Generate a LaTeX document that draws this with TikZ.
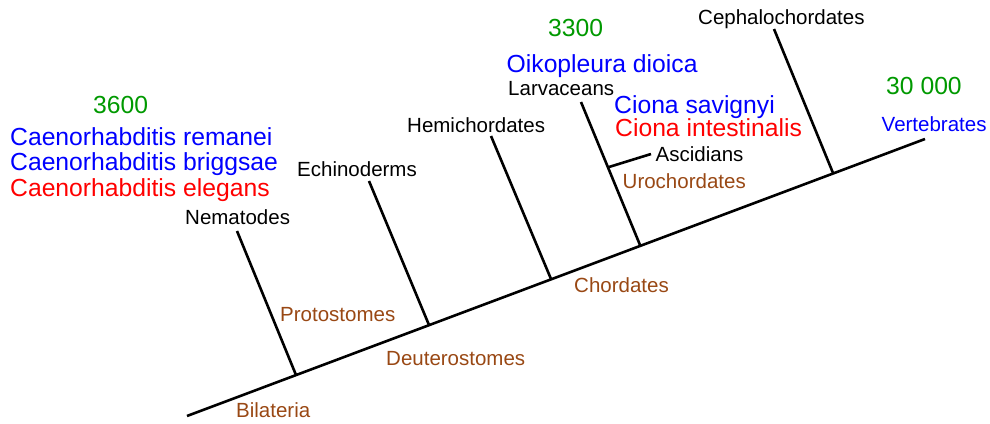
\documentclass[tikz,border=0pt]{standalone}
\usepackage{fontspec}
\setmainfont{Liberation Sans}
\definecolor{numgreen}{RGB}{0,153,0}
\definecolor{sppblue}{RGB}{0,0,255}
\definecolor{sppred}{RGB}{255,0,0}
\definecolor{cladebrown}{RGB}{153,72,20}
\begin{document}
\begin{tikzpicture}[x=1pt,y=-1pt,
  lbl/.style={anchor=base west,inner sep=0pt,font=\fontsize{20.5}{20.5}\selectfont},
  big/.style={anchor=base west,inner sep=0pt,font=\fontsize{24.7}{24.7}\selectfont},
  taxon/.style={lbl,text=black},
  clade/.style={lbl,text=cladebrown},
  num/.style={big,text=numgreen},
  sblue/.style={big,text=sppblue},
  sred/.style={big,text=sppred},
  edge/.style={line width=2.6pt,line cap=butt}]
\useasboundingbox (0,0) rectangle (990,423);
% coordinates of tree
\coordinate (root) at (187,416);
\coordinate (tip) at (925,139);
\coordinate (nemtop) at (237,231);
\coordinate (nembase) at (296,375);
\coordinate (echtop) at (369,181);
\coordinate (echbase) at (429,325);
\coordinate (hemtop) at (491,136);
\coordinate (hembase) at (551,279);
\coordinate (lartop) at (581,102);
\coordinate (urobase) at (640,245);
\coordinate (ascjoin) at (609,167);
\coordinate (asctip) at (651,154);
\coordinate (cephtop) at (774,29);
\coordinate (cephbase) at (833,173);
% branches
\draw[edge] (root) -- (tip);
\draw[edge] (nemtop) -- (nembase);
\draw[edge] (echtop) -- (echbase);
\draw[edge] (hemtop) -- (hembase);
\draw[edge] (lartop) -- (urobase);
\draw[edge] (ascjoin) -- (asctip);
\draw[edge] (cephtop) -- (cephbase);
% labels
\node[num] (n3600) at (93,113) {3600};
\node[sblue] (crem) at (10,145) {Caenorhabditis remanei};
\node[sblue] (cbri) at (10,170.5) {Caenorhabditis briggsae};
\node[sred] (cele) at (10,196.5) {Caenorhabditis elegans};
\node[taxon] (nem) at (185,224) {Nematodes};
\node[clade] (proto) at (280,321) {Protostomes};
\node[taxon] (echi) at (297,176.5) {Echinoderms};
\node[clade] (deut) at (386,365.5) {Deuterostomes};
\node[clade] (bila) at (236,417) {Bilateria};
\node[taxon] (hemi) at (407,132.5) {Hemichordates};
\node[clade] (chord) at (574,292) {Chordates};
\node[num] (n3300) at (548,36.5) {3300};
\node[sblue] (oiko) at (506.5,72.5) {Oikopleura dioica};
\node[taxon] (larv) at (508,95) {Larvaceans};
\node[sblue] (csav) at (614,113) {Ciona savignyi};
\node[sred] (cint) at (615,136) {Ciona intestinalis};
\node[taxon] (asci) at (655.5,161.5) {Ascidians};
\node[clade] (uro) at (622.5,188) {Urochordates};
\node[taxon] (ceph) at (698,24) {Cephalochordates};
\node[num] (n30000) at (886,94) {30 000};
\node[lbl,text=sppblue] (vert) at (881.5,131.5) {Vertebrates};
\end{tikzpicture}
\end{document}
